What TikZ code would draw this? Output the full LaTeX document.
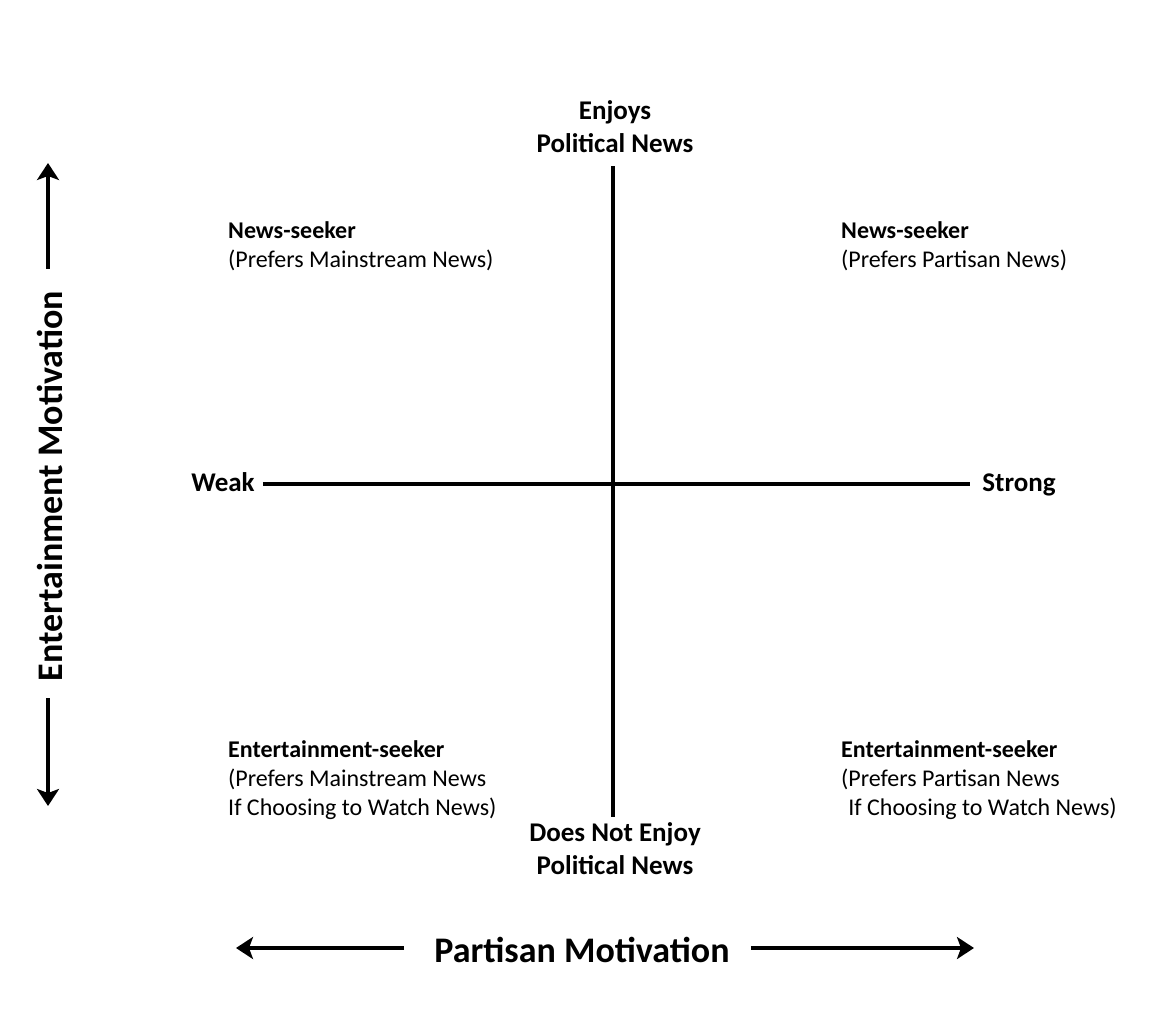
\documentclass[tikz,border=0pt]{standalone}
\usepackage{fontspec}
\setmainfont{Carlito}
\usetikzlibrary{positioning,arrows.meta}

\begin{document}
\begin{tikzpicture}[
    x=1pt,y=-1pt,
    every node/.style={inner sep=0pt,align=center},
    poslabel/.style={font=\fontsize{27}{33}\selectfont\bfseries},
    motlabel/.style={font=\fontsize{36}{40}\selectfont\bfseries},
    quadtext/.style={font=\fontsize{24}{29}\selectfont,align=left,anchor=north west},
    axisline/.style={line width=4pt},
    motarrow/.style={line width=4pt,-{Stealth[length=17pt,width=22pt,inset=4pt]}}
  ]
  \useasboundingbox (0,0) rectangle (1156,1026);
  % axis ends
  \node[poslabel] (enjoy)   at (615,127) {Enjoys\\Political News};
  \node[poslabel] (noenjoy) at (615,849) {Does Not Enjoy\\Political News};
  \node[poslabel,anchor=base] (weak)   at (223,491) {Weak};
  \node[poslabel,anchor=base] (strong) at (1019,491) {Strong};
  \draw[axisline,shorten <=13pt,shorten >=6pt] (enjoy.south -| 613,0) -- (noenjoy.north -| 613,0);
  \draw[axisline,shorten <=8pt,shorten >=12pt] (weak.east |- 0,484) -- (strong.west |- 0,484);
  % quadrants
  \node[quadtext] (nsleft)  at (228,221) {\textbf{News-seeker}\\(Prefers Mainstream News)};
  \node[quadtext] (nsright) at (841,221) {\textbf{News-seeker}\\(Prefers Partisan News)};
  \node[quadtext] (esleft)  at (228,740) {\textbf{Entertainment-seeker}\\(Prefers Mainstream News\\If Choosing to Watch News)};
  \node[quadtext] (esright) at (841,740) {\textbf{Entertainment-seeker}\\(Prefers Partisan News\\\hspace{0.3em}If Choosing to Watch News)};
  % motivation arrows
  \node[motlabel,rotate=90] (entmot) at (50,486) {Entertainment Motivation};
  \node[motlabel] (partmot) at (582,950) {Partisan Motivation};
  \coordinate (etop) at (48,163);
  \coordinate (ebot) at (48,806);
  \coordinate (pleft) at (236,948);
  \coordinate (pright) at (974,948);
  \draw[motarrow,shorten <=22pt] (etop |- entmot.east) -- (etop);
  \draw[motarrow,shorten <=17pt] (ebot |- entmot.west) -- (ebot);
  \draw[motarrow,shorten <=30pt] (partmot.west |- pleft) -- (pleft);
  \draw[motarrow,shorten <=21pt] (partmot.east |- pright) -- (pright);
\end{tikzpicture}
\end{document}
